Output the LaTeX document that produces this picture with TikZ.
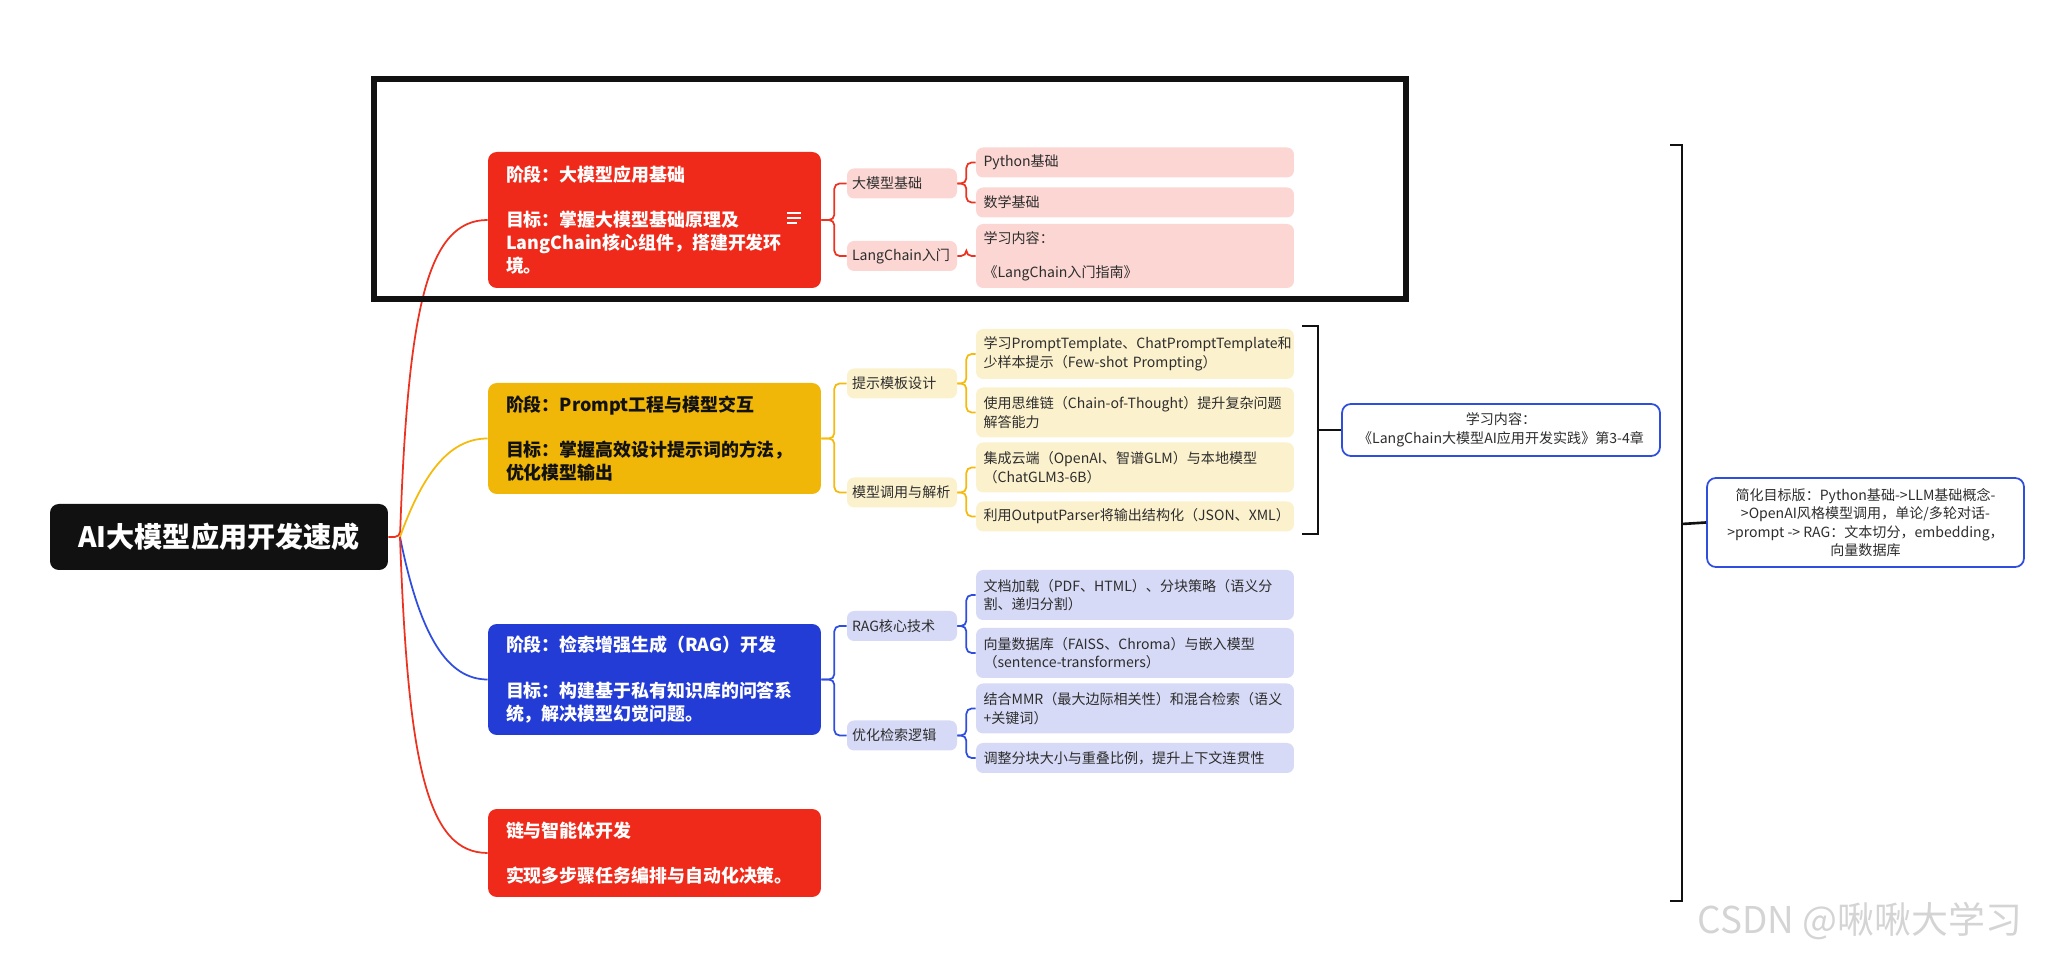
\documentclass[tikz,border=0pt]{standalone}
\usepackage{fontspec}
\setmainfont{Noto Sans CJK SC}
\definecolor{ink}{RGB}{17,17,17}
\definecolor{txt}{RGB}{45,45,45}
\definecolor{fire}{RGB}{240,42,26}
\definecolor{fireline}{RGB}{236,50,32}
\definecolor{firelight}{RGB}{251,214,211}
\definecolor{gold}{RGB}{240,183,8}
\definecolor{goldline}{RGB}{244,186,12}
\definecolor{goldlight}{RGB}{252,241,205}
\definecolor{royal}{RGB}{36,60,214}
\definecolor{royalline}{RGB}{48,78,222}
\definecolor{royallight}{RGB}{214,218,246}
\definecolor{wmgray}{RGB}{212,212,212}
\tikzset{
  link/.style={draw=#1,line width=1pt,rounded corners=3pt},
  topic/.style={fill=ink,text=white,rounded corners=5pt,minimum width=6.76cm,
    minimum height=1.32cm,font=\fontsize{16}{20}\selectfont\bfseries},
  stage/.style={fill=#1,text=white,rounded corners=5pt,inner xsep=0.36cm,
    text width=5.94cm,align=left,font=\fontsize{10.2}{13}\selectfont\bfseries},
  sub/.style={fill=#1,text=txt,rounded corners=4pt,inner xsep=0.1cm,text width=2cm,
    minimum height=0.6cm,align=left,font=\fontsize{8}{10.5}\selectfont},
  leaf/.style={fill=#1,text=txt,rounded corners=4pt,inner xsep=0.15cm,text width=6.06cm,
    minimum height=0.6cm,align=left,font=\fontsize{8}{10.5}\selectfont},
  tall/.style={minimum height=1cm},
  note/.style={draw=royalline,line width=1pt,rounded corners=5pt,fill=white,text=txt,
    align=center,minimum width=6.36cm,font=\fontsize{8}{10.5}\selectfont},
  bar/.style={draw=ink,line width=1.5pt},
}
\begin{document}
\begin{tikzpicture}[x=0.02cm,y=0.02cm]
  \useasboundingbox (0,0) rectangle (2069,959);
  % root and stages
  \node[topic] (root) at (219,422) {AI大模型应用开发速成};
  \coordinate (hub) at (400,422);
  \node[stage=fire,minimum height=2.72cm] (s1) at (654.5,739)
    {阶段：大模型应用基础\\[13pt]目标：掌握大模型基础原理及\\LangChain核心组件，搭建开发环\\境。};
  \node[stage=gold,text=ink,minimum height=2.22cm] (s2) at (654.5,520.5)
    {阶段：Prompt工程与模型交互\\[13pt]目标：掌握高效设计提示词的方法，\\优化模型输出};
  \node[stage=royal,minimum height=2.22cm] (s3) at (654.5,279.5)
    {阶段：检索增强生成（RAG）开发\\[13pt]目标：构建基于私有知识库的问答系\\统，解决模型幻觉问题。};
  \node[stage=fire,minimum height=1.76cm] (s4) at (654.5,106)
    {链与智能体开发\\[13pt]实现多步骤任务编排与自动化决策。};
  \foreach \y/\l in {746/14,741/14,736/10} \draw[white,line width=1.3pt] (787,\y) -- ++(\l,0);

  \draw[link=fireline] (root.east) -- (hub) .. controls +(8,230) and +(-60,0) .. (s1.west);
  \draw[link=goldline] (hub) .. controls +(25,70) and +(-35,0) .. (s2.west);
  \draw[link=royalline] (hub) .. controls +(20,-100) and +(-40,0) .. (s3.west);
  \draw[link=fireline] (hub) .. controls +(8,-230) and +(-60,0) .. (s4.west);

  % second level
  \node[sub=firelight] (a1) at (902,775.5) {大模型基础};
  \node[sub=firelight] (a2) at (902,703) {LangChain入门};
  \node[sub=goldlight] (b1) at (902,575.5) {提示模板设计};
  \node[sub=goldlight] (b2) at (902,466.5) {模型调用与解析};
  \node[sub=royallight] (c1) at (902,333) {RAG核心技术};
  \node[sub=royallight] (c2) at (902,223.5) {优化检索逻辑};

  % leaves
  \node[leaf=firelight] (l1) at (1135,796.5) {Python基础};
  \node[leaf=firelight] (l2) at (1135,756.5) {数学基础};
  \node[leaf=firelight,minimum height=1.28cm] (l3) at (1135,703) {学习内容：\\[9pt]《LangChain入门指南》};
  \node[leaf=goldlight,tall] (m1) at (1135,605) {学习PromptTemplate、ChatPromptTemplate和\\少样本提示（Few-shot Prompting）};
  \node[leaf=goldlight,tall] (m2) at (1135,546.5) {使用思维链（Chain-of-Thought）提升复杂问题\\解答能力};
  \node[leaf=goldlight,tall] (m3) at (1135,491.5) {集成云端（OpenAI、智谱GLM）与本地模型\\（ChatGLM3-6B）};
  \node[leaf=goldlight] (m4) at (1135,442.5) {利用OutputParser将输出结构化（JSON、XML）};
  \node[leaf=royallight,tall] (n1) at (1135,364) {文档加载（PDF、HTML）、分块策略（语义分\\割、递归分割）};
  \node[leaf=royallight,tall] (n2) at (1135,306) {向量数据库（FAISS、Chroma）与嵌入模型\\（sentence-transformers）};
  \node[leaf=royallight,tall] (n3) at (1135,250.5) {结合MMR（最大边际相关性）和混合检索（语义\\+关键词）};
  \node[leaf=royallight] (n4) at (1135,201) {调整分块大小与重叠比例，提升上下文连贯性};

  \foreach \a/\b in {s1/a1,s1/a2} \draw[link=fireline] (\a.east) -- ++(13,0) |- (\b.west);
  \foreach \a/\b in {s2/b1,s2/b2} \draw[link=goldline] (\a.east) -- ++(13,0) |- (\b.west);
  \foreach \a/\b in {s3/c1,s3/c2} \draw[link=royalline] (\a.east) -- ++(13,0) |- (\b.west);
  \foreach \a/\b in {a1/l1,a1/l2,a2/l3} \draw[link=fireline] (\a.east) -- ++(9,0) |- (\b.west);
  \foreach \a/\b in {b1/m1,b1/m2,b2/m3,b2/m4} \draw[link=goldline] (\a.east) -- ++(9,0) |- (\b.west);
  \foreach \a/\b in {c1/n1,c1/n2,c2/n3,c2/n4} \draw[link=royalline] (\a.east) -- ++(9,0) |- (\b.west);

  % highlight frame
  \draw[ink,line width=3.6pt] (374,880) rectangle (1406,660);

  % summaries
  \node[note,minimum height=1.04cm] (k1) at (1501,529)
    {学习内容：\\《LangChain大模型AI应用开发实践》第3-4章};
  \node[note,minimum width=6.34cm,minimum height=1.78cm] (k2) at (1865.5,436.5)
    {简化目标版：Python基础->LLM基础概念-\\>OpenAI风格模型调用，单论/多轮对话-\\>prompt -> RAG：文本切分，embedding，\\向量数据库};
  \draw[bar] (1302,633) -- (1318,633) -- (1318,425) -- (1302,425);
  \coordinate (midbar) at (1318,529);
  \draw[bar] (midbar) -- (k1.west);
  \draw[bar] (1670,814) -- (1682,814) -- (1682,58) -- (1670,58);
  \coordinate (bigbar) at (1682,435);
  \draw[bar] (bigbar) -- (k2.west);

  \node[text=wmgray,font=\fontsize{21}{24}\selectfont] (wm) at (1860,38) {CSDN @啾啾大学习};
\end{tikzpicture}
\end{document}
